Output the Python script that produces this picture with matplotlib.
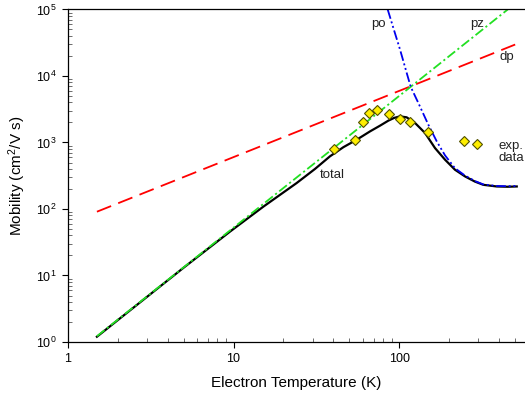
import matplotlib
matplotlib.use("Agg")
import matplotlib.pyplot as plt
from matplotlib.ticker import FixedLocator, FixedFormatter, LogLocator, NullFormatter

plt.rcParams['font.family'] = ['Liberation Sans', 'DejaVu Sans']
plt.rcParams['mathtext.fontset'] = 'custom'
plt.rcParams['mathtext.rm'] = 'Liberation Sans'
plt.rcParams['mathtext.it'] = 'Liberation Sans:italic'
plt.rcParams['lines.scale_dashes'] = False

# ---- data ----
T_dp = [1.5, 500]
mu_dp = [91, 29700]

T_pz = [1.5, 117, 451]
mu_pz = [1.22, 6860, 100000]

T_po = [85.1, 92, 101, 110.8, 117.2, 130.2, 149.6, 168.2, 188.7, 216.7, 249, 286, 321, 387, 450, 511]
mu_po = [100000, 53000, 25000, 11130, 6855, 3935, 1854, 1039, 640, 410, 318, 263, 234, 222, 220, 222]

T_tot = [1.5, 5, 9.5, 15.1, 24, 31, 38.2, 46, 55.3, 66.6, 76.5, 85.9, 93, 101, 110.8, 124.4, 142.9,
         164.1, 188.7, 216.7, 249, 286, 321, 387, 450, 511]
mu_tot = [1.2, 13.1, 45.5, 108, 245, 400, 620, 850, 1100, 1469, 1790, 2130, 2340, 2472, 2388, 1966, 1390,
          826, 551, 389, 309, 258, 231, 218, 216, 218]

T_exp = [40.5, 53.7, 60.2, 66.0, 73.5, 86.7, 101.4, 115.9, 148.7, 244.7, 294]
mu_exp = [803, 1097, 2000, 2773, 3110, 2640, 2275, 2000, 1435, 1060, 933]

x_ticks = [1, 10, 100]
x_tick_labels = ['1', '10', '100']
y_ticks = [1, 10, 100, 1000, 10000, 100000]
y_tick_labels = [r'$\mathregular{10^{%d}}$' % i for i in range(6)]

# ---- figure ----
fig = plt.figure(figsize=(5.25, 3.98), dpi=100)
ax = fig.add_axes([0.129, 0.1407, 0.871, 0.8355])
ax.set_xscale('log')
ax.set_yscale('log')
ax.set_xlim(1, 573)
ax.set_ylim(1, 1e5)

ax.plot(T_dp, mu_dp, color='#ff0000', lw=1.3, dashes=(11, 5.5))
ax.plot(T_tot, mu_tot, color='black', lw=1.6)
ax.plot(T_pz, mu_pz, color='#22e022', lw=1.3, dashes=(7, 2.2, 1.5, 2.2))
ax.plot(T_po, mu_po, color='#0000ee', lw=1.3, dashes=(7, 2, 1.4, 2, 1.4, 2))
ax.plot(T_exp, mu_exp, linestyle='none', marker='D', markersize=5.6,
        markerfacecolor='#ffee00', markeredgecolor='#505000', markeredgewidth=0.8)

lab_kw = dict(fontsize=9.5, color='#222222')
ax.text(74.4, 61500, 'po', ha='center', va='center', **lab_kw)
ax.text(294, 61500, 'pz', ha='center', va='center', **lab_kw)
ax.text(446, 19600, 'dp', ha='center', va='center', **lab_kw)
ax.text(39.3, 327, 'total', ha='center', va='center', **lab_kw)
ax.text(394, 727, 'exp.\ndata', ha='left', va='center', linespacing=1.0, **lab_kw)

# ticks
ax.xaxis.set_major_locator(FixedLocator(x_ticks))
ax.xaxis.set_major_formatter(FixedFormatter(x_tick_labels))
ax.xaxis.set_minor_locator(LogLocator(base=10, subs=range(2, 10), numticks=20))
ax.xaxis.set_minor_formatter(NullFormatter())
ax.yaxis.set_major_locator(FixedLocator(y_ticks))
ax.yaxis.set_major_formatter(FixedFormatter(y_tick_labels))
ax.yaxis.set_minor_locator(LogLocator(base=10, subs=range(2, 10), numticks=20))
ax.yaxis.set_minor_formatter(NullFormatter())

ax.tick_params(which='major', direction='out', length=4, width=0.8, labelsize=9, pad=4)
ax.tick_params(which='minor', direction='in', length=3, width=0.6, color='#555555')
ax.tick_params(top=False, right=False, which='both')

ax.spines['right'].set_visible(False)
for s in ['left', 'bottom', 'top']:
    ax.spines[s].set_linewidth(0.9)

ax.set_xlabel('Electron Temperature (K)', fontsize=11, labelpad=8)
ax.set_ylabel(r'Mobility (cm$\mathregular{^2}$/V s)', fontsize=11, labelpad=6)

fig.savefig('out.png', dpi=100)
